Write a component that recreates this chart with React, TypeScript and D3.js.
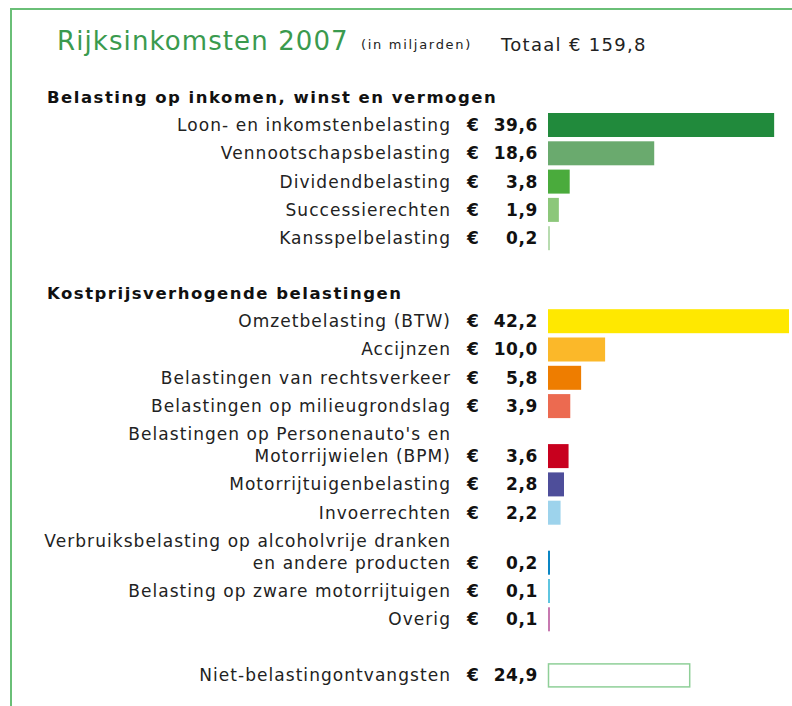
import React from "react";
import * as d3 from "d3";

const section1Title = "Belasting op inkomen, winst en vermogen";
const section1Labels = [
  ["Loon- en inkomstenbelasting"],
  ["Vennootschapsbelasting"],
  ["Dividendbelasting"],
  ["Successierechten"],
  ["Kansspelbelasting"],
];
const section1Values = [39.6, 18.6, 3.8, 1.9, 0.2];
const section1Colors = ["#218a3c", "#6aaa6e", "#4aab3c", "#8cc77a", "#b8dcb0"];

const section2Title = "Kostprijsverhogende belastingen";
const section2Labels = [
  ["Omzetbelasting (BTW)"],
  ["Accijnzen"],
  ["Belastingen van rechtsverkeer"],
  ["Belastingen op milieugrondslag"],
  ["Belastingen op Personenauto's en", "Motorrijwielen (BPM)"],
  ["Motorrijtuigenbelasting"],
  ["Invoerrechten"],
  ["Verbruiksbelasting op alcoholvrije dranken", "en andere producten"],
  ["Belasting op zware motorrijtuigen"],
  ["Overig"],
];
const section2Values = [42.2, 10.0, 5.8, 3.9, 3.6, 2.8, 2.2, 0.2, 0.1, 0.1];
const section2Colors = ["#ffe800", "#fbb829", "#ee7d00", "#ec6a50", "#c8001e", "#4e4e9a", "#9dd3ec", "#0a86c4", "#5fc5e0", "#c778b0"];

const otherLabel = "Niet-belastingontvangsten";
const otherValue = 24.9;

const title = "Rijksinkomsten 2007";
const unitNote = "(in miljarden)";
const totalLabel = "Totaal € 159,8";

const fmt = (v: number) => v.toFixed(1).replace(".", ",");

export default function App() {
  const W = 792, H = 706;
  const barX = 548;
  const x = d3.scaleLinear().domain([0, 42.2]).range([0, 241]);
  const pitch = 28.3;
  const lineH = 21.7;
  const barH = 24;
  const labelX = 451;
  const euroX = 467;
  const valX = 538;
  const font = "DejaVu Sans, Verdana, sans-serif";
  const fs = 17;
  const ls = 1.05;

  type Row = { lines: string[]; value: number; color: string; outline?: boolean; y: number };
  const rows: Row[] = [];
  let y = 97;
  const header1Y = y;
  y += pitch - 0.3;
  section1Labels.forEach((l, i) => {
    y += (l.length - 1) * lineH;
    rows.push({ lines: l, value: section1Values[i], color: section1Colors[i], y });
    y += pitch;
  });
  y -= pitch;
  const header2Y = y + 55;
  y = header2Y + 28;
  section2Labels.forEach((l, i) => {
    y += (l.length - 1) * lineH;
    rows.push({ lines: l, value: section2Values[i], color: section2Colors[i], y });
    y += pitch;
  });
  y += pitch - 0.5;
  rows.push({ lines: [otherLabel], value: otherValue, color: "#ffffff", outline: true, y });

  return (
    <svg width={W} height={H} style={{ position: "absolute", left: 0, top: 0 }}>
      <rect x={0} y={0} width={W} height={H} fill="#ffffff" />
      <line x1={10} y1={9} x2={W} y2={9} stroke="#6abf77" strokeWidth={2} />
      <line x1={11} y1={8} x2={11} y2={H} stroke="#6abf77" strokeWidth={2} />
      <text x={57} y={50} fontFamily={font} fontSize={26} letterSpacing={1.1} fill="#3a9a4e">{title}</text>
      <text x={361} y={49} fontFamily={font} fontSize={13} letterSpacing={1.7} fill="#222">{unitNote}</text>
      <text x={501} y={51} fontFamily={font} fontSize={18} letterSpacing={1.3} fill="#222">{totalLabel}</text>
      <text x={47} y={header1Y} dy="0.35em" fontFamily={font} fontSize={16.5} letterSpacing={1.5} fontWeight="bold" fill="#111">{section1Title}</text>
      <text x={47} y={header2Y} dy="0.35em" fontFamily={font} fontSize={16.5} letterSpacing={1.5} fontWeight="bold" fill="#111">{section2Title}</text>
      {rows.map((r, i) => (
        <g key={i}>
          {r.lines.map((ln, j) => (
            <text key={j} x={labelX} y={r.y - (r.lines.length - 1 - j) * lineH} dy="0.35em" textAnchor="end" fontFamily={font} fontSize={fs} letterSpacing={ls} fill="#222">{ln}</text>
          ))}
          <text x={euroX} y={r.y} dy="0.35em" fontFamily={font} fontSize={fs} fontWeight="bold" fill="#111">€</text>
          <text x={valX} y={r.y} dy="0.35em" textAnchor="end" fontFamily={font} fontSize={fs} letterSpacing={0.6} fontWeight="bold" fill="#111">{fmt(r.value)}</text>
          {r.outline ? (
            <rect x={barX + 0.5} y={r.y - barH / 2 + 0.5} width={x(r.value) - 1} height={barH - 1} fill="#fff" stroke="#8fcf98" strokeWidth={1.5} />
          ) : (
            <rect x={barX} y={r.y - barH / 2} width={Math.max(2, x(r.value))} height={barH} fill={r.color} />
          )}
        </g>
      ))}
    </svg>
  );
}
